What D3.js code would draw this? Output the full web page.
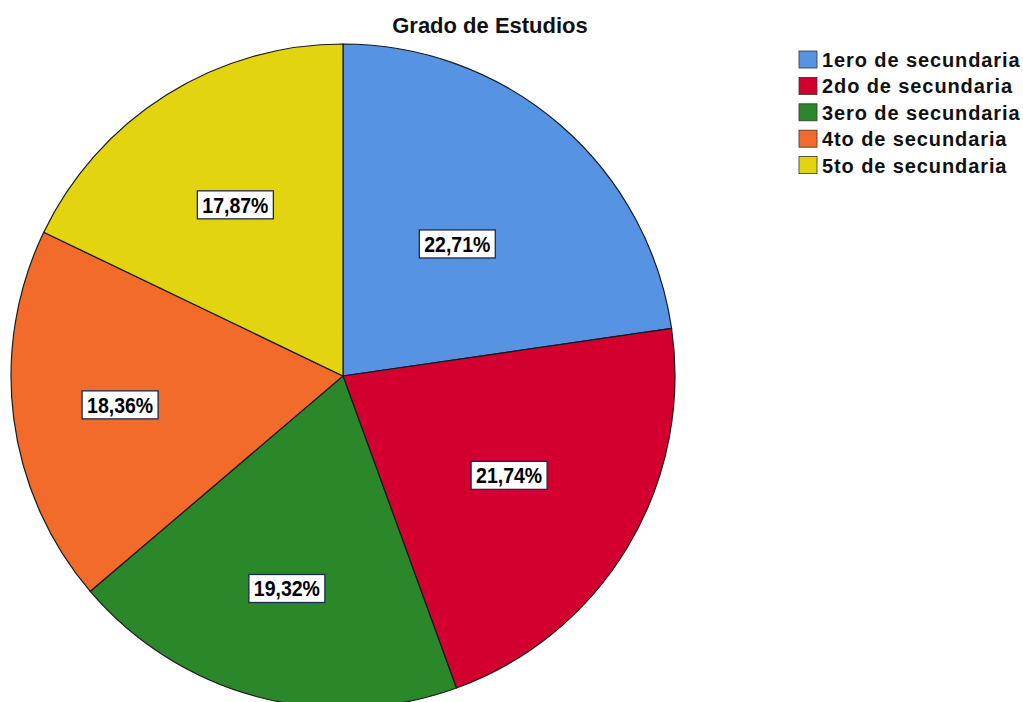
<!DOCTYPE html>
<html>
<head>
<meta charset="utf-8">
<script src="https://cdn.jsdelivr.net/npm/d3@7"></script>
<style>
  body { margin: 0; background: #fff; }
</style>
</head>
<body>
<div id="chart"></div>
<script>
var categories = ["1ero de secundaria", "2do de secundaria", "3ero de secundaria", "4to de secundaria", "5to de secundaria"];
var values = [22.71, 21.74, 19.32, 18.36, 17.87];
var colors = ["#5693e2", "#d3002f", "#2a882b", "#f26b2a", "#e2d50f"];
// how far out each label sits, as a share of the radius
var labelPos = [0.526, 0.583, 0.662, 0.677, 0.609];

var svg = d3.select("#chart")
    .append("svg")
    .attr("width", 1023)
    .attr("height", 702);

svg.append("text")
  .attr("x", 490)
  .attr("y", 33)
  .attr("text-anchor", "middle")
  .style("font-family", "Liberation Sans, Arial, sans-serif")
  .style("font-weight", "bold")
  .style("font-size", "22px")
  .style("fill", "#111")
  .text("Grado de Estudios");

var cx = 343, cy = 376, r = 332;

var pie = d3.pie().sort(null).value(function(d){ return d; });
var arcs = pie(values);
var arc = d3.arc().innerRadius(0).outerRadius(r);

var g = svg.append("g").attr("transform", `translate(${cx},${cy})`);

g.selectAll("path")
  .data(arcs)
  .enter().append("path")
    .attr("d", arc)
    .attr("fill", function(d, i){ return colors[i]; })
    .attr("stroke", "#1a1a1a")
    .attr("stroke-width", 1.2);

var lbl = g.selectAll("g.lbl")
  .data(arcs)
  .enter().append("g")
    .attr("class", "lbl")
    .attr("transform", function(d, i){
      var rr = r * labelPos[i];
      var c = d3.arc().innerRadius(rr).outerRadius(rr).centroid(d);
      return `translate(${c[0]},${c[1]})`;
    });

lbl.append("rect")
  .attr("x", -38)
  .attr("y", -14)
  .attr("width", 76)
  .attr("height", 28)
  .attr("fill", "#fff")
  .attr("stroke", "#1b2a4a")
  .attr("stroke-width", 1.3);

lbl.append("text")
  .attr("text-anchor", "middle")
  .attr("dy", "0.36em")
  .attr("textLength", 66)
  .attr("lengthAdjust", "spacingAndGlyphs")
  .style("font-family", "Liberation Sans, Arial, sans-serif")
  .style("font-weight", "bold")
  .style("font-size", "22px")
  .style("fill", "#000")
  .text(function(d){ return d.data.toFixed(2).replace(".", ",") + "%"; });

var legend = svg.append("g").attr("transform", "translate(799,51)");
var y = d3.scaleBand().domain(categories).range([0, 132]);

var item = legend.selectAll("g")
  .data(categories)
  .enter().append("g")
    .attr("transform", function(d){ return `translate(0,${y(d)})`; });

item.append("rect")
  .attr("width", 18)
  .attr("height", 17)
  .attr("fill", function(d, i){ return colors[i]; })
  .attr("stroke", "#333")
  .attr("stroke-width", 0.8);

item.append("text")
  .attr("x", 23)
  .attr("y", 16)
  .style("font-family", "Liberation Sans, Arial, sans-serif")
  .style("font-weight", "bold")
  .style("font-size", "20px")
  .style("letter-spacing", "0.9px")
  .style("fill", "#111")
  .text(function(d){ return d; });
</script>
</body>
</html>
